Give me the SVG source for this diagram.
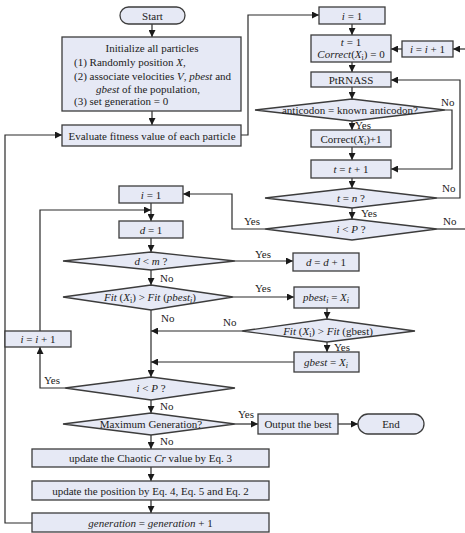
<svg xmlns="http://www.w3.org/2000/svg" width="465" height="533" viewBox="0 0 465 533">
<style>
.b{fill:#e6e9f5;stroke:#3c3c3c;stroke-width:1.3}
.c{fill:none;stroke:#2a2a2a;stroke-width:1.2}
text{font-family:"Liberation Serif","Times New Roman",serif;font-size:11px;fill:#222}
.m{text-anchor:middle}
.i{font-style:italic}
</style>
<defs>
<marker id="a" markerUnits="userSpaceOnUse" markerWidth="7" markerHeight="7" refX="7" refY="3.5" orient="auto"><path d="M0,0 L7,3.5 L0,7 z" fill="#1a1a1a"/></marker>
</defs>
<rect width="465" height="533" fill="#fff"/>
<g id="connectors" class="c">
<path d="M152,24 V37" marker-end="url(#a)"/>
<path d="M152,111 V125" marker-end="url(#a)"/>
<path d="M241,135 H248 V15 H319" marker-end="url(#a)"/>
<path d="M352,24 V35" marker-end="url(#a)"/>
<path d="M402,49 H391" marker-end="url(#a)"/>
<path d="M465,49 H453" marker-end="url(#a)"/>
<path d="M352,62 V72" marker-end="url(#a)"/>
<path d="M352,87 V99" marker-end="url(#a)"/>
<path d="M352,121 V130" marker-end="url(#a)"/>
<path d="M445,110 H452 V169 H391" marker-end="url(#a)"/>
<path d="M352,147 V160" marker-end="url(#a)"/>
<path d="M352,178 V188" marker-end="url(#a)"/>
<path d="M437,198 H460 V80 H391" marker-end="url(#a)"/>
<path d="M352,208 V219" marker-end="url(#a)"/>
<path d="M265,229 H232 V194 H183" marker-end="url(#a)"/>
<path d="M437,229 H465"/>
<path d="M151,203 V221" marker-end="url(#a)"/>
<path d="M40,331 V210 H151" marker-end="url(#a)"/>
<path d="M151,238 V252" marker-end="url(#a)"/>
<path d="M235,261 H293" marker-end="url(#a)"/>
<path d="M151,270 V285" marker-end="url(#a)"/>
<path d="M233,297 H294" marker-end="url(#a)"/>
<path d="M327,308 V319" marker-end="url(#a)"/>
<path d="M242,331 H151" marker-end="url(#a)"/>
<path d="M327,342 V352" marker-end="url(#a)"/>
<path d="M294,362 H151" marker-end="url(#a)"/>
<path d="M151,310 V377" marker-end="url(#a)"/>
<path d="M65,388 H40 V347" marker-end="url(#a)"/>
<path d="M151,400 V413" marker-end="url(#a)"/>
<path d="M235,424 H258" marker-end="url(#a)"/>
<path d="M338,424 H358" marker-end="url(#a)"/>
<path d="M151,435 V449" marker-end="url(#a)"/>
<path d="M151,467 V481" marker-end="url(#a)"/>
<path d="M151,500 V513" marker-end="url(#a)"/>
<path d="M32,523 H5 V135 H62" marker-end="url(#a)"/>
</g>
<g id="labels">
<text x="355" y="129">Yes</text>
<text x="441" y="106">No</text>
<text x="442" y="192">No</text>
<text x="361" y="217">Yes</text>
<text x="244" y="225">Yes</text>
<text x="443" y="225">No</text>
<text x="255" y="258">Yes</text>
<text x="160" y="282">No</text>
<text x="255" y="292">Yes</text>
<text x="161" y="322">No</text>
<text x="223" y="326">No</text>
<text x="334" y="351">Yes</text>
<text x="44" y="384">Yes</text>
<text x="160" y="410">No</text>
<text x="238" y="418">Yes</text>
<text x="160" y="445">No</text>
</g>
<g id="start"><rect class="b" x="120" y="7" width="65" height="17" rx="8.5"/><text class="m" x="152.5" y="19.5">Start</text></g>
<g id="init"><rect class="b" x="62" y="37" width="179" height="74"/>
<text class="m" x="152" y="52">Initialize all particles</text>
<text x="74" y="66">(1) Randomly position <tspan class="i">X</tspan>,</text>
<text x="74" y="80">(2) associate velocities <tspan class="i">V</tspan>, <tspan class="i">pbest</tspan> and</text>
<text x="96" y="93"><tspan class="i">gbest</tspan> of the population,</text>
<text x="74" y="105">(3) set generation = 0</text></g>
<g id="evaluate"><rect class="b" x="62" y="125" width="179" height="21"/><text class="m" x="152" y="139.5">Evaluate fitness value of each particle</text></g>
<g id="i1a"><rect class="b" x="319" y="7" width="66" height="17"/><text class="m" x="352" y="19.5"><tspan class="i">i</tspan> = 1</text></g>
<g id="t1"><rect class="b" x="311" y="35" width="80" height="27"/><text class="m" x="351" y="46"><tspan class="i">t</tspan> = 1</text><text class="m" x="351" y="58"><tspan class="i">Correct</tspan>(<tspan class="i">X</tspan><tspan font-size="8" dy="2">i</tspan><tspan dy="-2">) = 0</tspan></text></g>
<g id="iinc1"><rect class="b" x="402" y="41" width="51" height="16"/><text class="m" x="427.5" y="53"><tspan class="i">i</tspan> = <tspan class="i">i</tspan> + 1</text></g>
<g id="ptrnass"><rect class="b" x="311" y="72" width="80" height="15" stroke-width="2.2"/><text class="m" x="351" y="83.5">PtRNASS</text></g>
<g id="anticodon"><polygon class="b" points="255,110 352,99 445,110 352,121"/><text class="m" x="350" y="114">anticodon = known anticodon?</text></g>
<g id="correct1"><rect class="b" x="311" y="130" width="80" height="17"/><text class="m" x="351" y="142.5">Correct(<tspan class="i">X</tspan><tspan font-size="8" dy="2">i</tspan><tspan dy="-2">)+1</tspan></text></g>
<g id="tinc"><rect class="b" x="311" y="160" width="80" height="18"/><text class="m" x="351" y="173"><tspan class="i">t</tspan> = <tspan class="i">t</tspan> + 1</text></g>
<g id="tn"><polygon class="b" points="265,198 352,188 437,198 352,208"/><text class="m" x="351" y="202"><tspan class="i">t</tspan> = <tspan class="i">n</tspan> ?</text></g>
<g id="ipa"><polygon class="b" points="265,229 352,219 437,229 352,240"/><text class="m" x="351" y="233"><tspan class="i">i</tspan> &lt; <tspan class="i">P</tspan> ?</text></g>
<g id="i1b"><rect class="b" x="119" y="186" width="64" height="17"/><text class="m" x="151" y="198.5"><tspan class="i">i</tspan> = 1</text></g>
<g id="d1"><rect class="b" x="119" y="221" width="64" height="17"/><text class="m" x="151" y="233.5"><tspan class="i">d</tspan> = 1</text></g>
<g id="dm"><polygon class="b" points="63,261 151,252 235,261 151,270"/><text class="m" x="151" y="265"><tspan class="i">d</tspan> &lt; <tspan class="i">m</tspan> ?</text></g>
<g id="dinc"><rect class="b" x="293" y="253" width="66" height="18"/><text class="m" x="326" y="266"><tspan class="i">d</tspan> = <tspan class="i">d</tspan> + 1</text></g>
<g id="fitp"><polygon class="b" points="63,297 151,285 233,297 151,310"/><text class="m" x="150" y="301"><tspan class="i">Fit</tspan> (<tspan class="i">X</tspan><tspan font-size="8" dy="2">i</tspan><tspan dy="-2">) &gt; </tspan><tspan class="i">Fit</tspan> (<tspan class="i">pbest</tspan><tspan class="i" font-size="8" dy="2">i</tspan><tspan dy="-2">)</tspan></text></g>
<g id="pbest"><rect class="b" x="294" y="287" width="65" height="21"/><text class="m" x="326" y="301"><tspan class="i">pbest</tspan><tspan class="i" font-size="8" dy="2">i</tspan><tspan dy="-2"> = </tspan><tspan class="i">X</tspan><tspan class="i" font-size="8" dy="2">i</tspan></text></g>
<g id="fitg"><polygon class="b" points="242,331 327,319 415,331 327,342"/><text class="m" x="328" y="335"><tspan class="i">Fit</tspan> (<tspan class="i">X</tspan><tspan font-size="8" dy="2">i</tspan><tspan dy="-2">) &gt; </tspan><tspan class="i">Fit</tspan> (gbest)</text></g>
<g id="gbest"><rect class="b" x="294" y="352" width="65" height="20"/><text class="m" x="326" y="365.5"><tspan class="i">gbest</tspan> = <tspan class="i">X</tspan><tspan class="i" font-size="8" dy="2">i</tspan></text></g>
<g id="iinc2"><rect class="b" x="5" y="331" width="66" height="16"/><text class="m" x="38" y="343"><tspan class="i">i</tspan> = <tspan class="i">i</tspan> + 1</text></g>
<g id="ipb"><polygon class="b" points="65,388 151,377 235,388 151,400"/><text class="m" x="151" y="392"><tspan class="i">i</tspan> &lt; <tspan class="i">P</tspan> ?</text></g>
<g id="maxgen"><polygon class="b" points="63,424 151,413 235,424 151,435"/><text class="m" x="151" y="428">Maximum Generation?</text></g>
<g id="output"><rect class="b" x="258" y="414" width="80" height="20"/><text class="m" x="298" y="428">Output the best</text></g>
<g id="end"><rect class="b" x="358" y="414" width="66" height="20" rx="10"/><text class="m" x="391" y="428">End</text></g>
<g id="chaotic"><rect class="b" x="32" y="449" width="237" height="18"/><text class="m" x="150.5" y="462">update the Chaotic <tspan class="i">Cr</tspan> value by Eq. 3</text></g>
<g id="position"><rect class="b" x="32" y="481" width="237" height="19"/><text class="m" x="150.5" y="494.5">update the position by Eq. 4, Eq. 5 and Eq. 2</text></g>
<g id="generation"><rect class="b" x="32" y="513" width="237" height="19"/><text class="m" x="150.5" y="527"><tspan class="i">generation</tspan> = <tspan class="i">generation</tspan> + 1</text></g>
</svg>
